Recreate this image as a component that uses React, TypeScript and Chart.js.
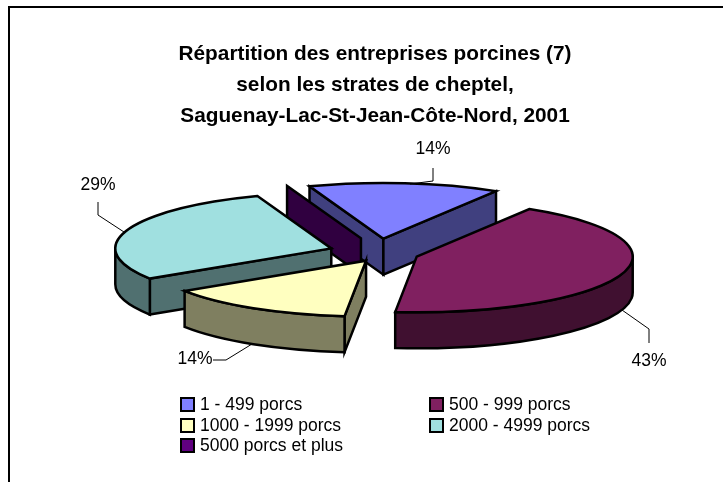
import React, { useEffect, useRef } from "react";
import { Chart, registerables } from "chart.js";

Chart.register(...registerables);

const titleLines = [
  "Répartition des entreprises porcines (7)",
  "selon les strates de cheptel,",
  "Saguenay-Lac-St-Jean-Côte-Nord, 2001",
];
const categories = ["1 - 499 porcs", "500 - 999 porcs", "1000 - 1999 porcs", "2000 - 4999 porcs", "5000 porcs et plus"];
const farmCounts = [1, 3, 1, 2, 0];
const faceColors = ["#8080FF", "#802060", "#FFFFC0", "#A0E0E0", "#600080"];
const wallColors = ["#40407F", "#401030", "#7F7F60", "#507070", "#300040"];

const FONT = "'Liberation Sans', Arial, sans-serif";
const SQUASH = 0.258;
const DEPTH = 36;
const nudges = [[4, -2], [0, 1], [14, -1], [-2, 0], [1, -3]];
const leaders: (number[][] | null)[] = [
  [[410, 184], [433, 181], [433, 168]],
  [[622, 310], [649, 329], [649, 343]],
  [[252, 344], [226, 360], [213, 360]],
  [[124, 232], [98, 215], [98, 202]],
  null,
];
const labelSpots = [[433, 149], [649, 361], [195, 359], [98, 185], null];
const legendSpots = [[180, 404], [429, 404], [180, 425], [429, 425], [180, 445]];

const pie3d = {
  id: "pie3d",
  beforeDraw(chart: any) {
    const { ctx } = chart;
    ctx.save();
    ctx.fillStyle = "#000";
    ctx.fillRect(8, 6, chart.width - 8, 2);
    ctx.fillRect(8, 6, 2, chart.height - 6);
    ctx.restore();
  },
  beforeDatasetDraw(chart: any, args: any) {
    const { ctx } = chart;
    const arcs = args.meta.data;
    const order = arcs
      .map((a: any, i: number) => i)
      .sort((p: number, q: number) => {
        const m = (i: number) => Math.sin((arcs[i].startAngle + arcs[i].endAngle) / 2);
        return m(p) - m(q);
      });
    ctx.save();
    ctx.lineWidth = 2.5;
    ctx.lineJoin = "miter";
    ctx.strokeStyle = "#000";
    for (const i of order) {
      const arc = arcs[i];
      const { x, y, startAngle: a, endAngle: b, outerRadius: R } = arc;
      const mid = (a + b) / 2;
      const off = arc.options.offset;
      const cx = x + Math.cos(mid) * off + nudges[i][0];
      const cy = y + Math.sin(mid) * off * SQUASH + nudges[i][1];
      const Ry = R * SQUASH;
      const px = (t: number) => cx + Math.cos(t) * R;
      const py = (t: number) => cy + Math.sin(t) * Ry;

      ctx.fillStyle = wallColors[i];
      const wall = (t: number) => {
        ctx.beginPath();
        ctx.moveTo(cx, cy);
        ctx.lineTo(px(t), py(t));
        ctx.lineTo(px(t), py(t) + DEPTH);
        ctx.lineTo(cx, cy + DEPTH);
        ctx.closePath();
        ctx.fill();
        ctx.stroke();
      };
      if (Math.sin(a - Math.PI / 2) > 0) wall(a);
      if (b > a && Math.cos(b) > 0) wall(b);

      const r0 = Math.max(a, 0);
      const r1 = Math.min(b, Math.PI);
      if (r1 > r0) {
        ctx.beginPath();
        ctx.ellipse(cx, cy, R, Ry, 0, r0, r1);
        ctx.ellipse(cx, cy + DEPTH, R, Ry, 0, r1, r0, true);
        ctx.closePath();
        ctx.fill();
        ctx.stroke();
      }

      if (b > a) {
        ctx.fillStyle = arc.options.backgroundColor;
        ctx.beginPath();
        ctx.moveTo(cx, cy);
        ctx.ellipse(cx, cy, R, Ry, 0, a, b);
        ctx.closePath();
        ctx.fill();
        ctx.stroke();
      }
    }
    ctx.restore();
    return false;
  },
  afterDraw(chart: any) {
    const { ctx } = chart;
    const values: number[] = chart.data.datasets[0].data;
    const total = values.reduce((s, v) => s + v, 0);
    ctx.save();
    ctx.lineWidth = 1;
    ctx.strokeStyle = "#000";
    ctx.fillStyle = "#000";
    ctx.font = `17.5px ${FONT}`;
    ctx.textAlign = "center";
    ctx.textBaseline = "middle";
    values.forEach((v, i) => {
      const line = leaders[i];
      const spot = labelSpots[i];
      if (!line || !spot) return;
      ctx.beginPath();
      line.forEach(([lx, ly], k) => (k ? ctx.lineTo(lx, ly) : ctx.moveTo(lx, ly)));
      ctx.stroke();
      ctx.fillText(`${Math.round((v / total) * 100)}%`, spot[0], spot[1]);
    });

    ctx.textAlign = "left";
    (chart.data.labels as string[]).forEach((label, i) => {
      const [lx, ly] = legendSpots[i];
      ctx.fillStyle = faceColors[i];
      ctx.fillRect(lx, ly - 7, 14, 14);
      ctx.lineWidth = 2;
      ctx.strokeRect(lx + 1, ly - 6, 13, 13);
      ctx.fillStyle = "#000";
      ctx.fillText(label, lx + 20, ly + 1);
    });
    ctx.restore();
  },
};

export default function App() {
  const ref = useRef<HTMLCanvasElement>(null);
  useEffect(() => {
    const chart = new Chart(ref.current!, {
      type: "pie",
      data: {
        labels: categories,
        datasets: [
          {
            data: farmCounts,
            backgroundColor: faceColors,
            borderWidth: 0,
            offset: 44,
          },
        ],
      },
      options: {
        responsive: false,
        animation: false,
        rotation: -20,
        radius: 216,
        layout: { padding: { left: 27, top: 39, bottom: 110 } },
        plugins: {
          legend: { display: false },
          tooltip: { enabled: false },
          title: {
            display: true,
            text: titleLines,
            color: "#000",
            font: { family: FONT, size: 20.8, weight: "bold", lineHeight: 1.49 },
            padding: 0,
          },
        },
      },
      plugins: [pie3d],
    } as any);
    return () => chart.destroy();
  }, []);
  return (
    <div style={{ position: "fixed", left: 0, top: 0, width: 723, height: 482, background: "#fff" }}>
      <canvas ref={ref} width={723} height={482} style={{ display: "block" }} />
    </div>
  );
}
